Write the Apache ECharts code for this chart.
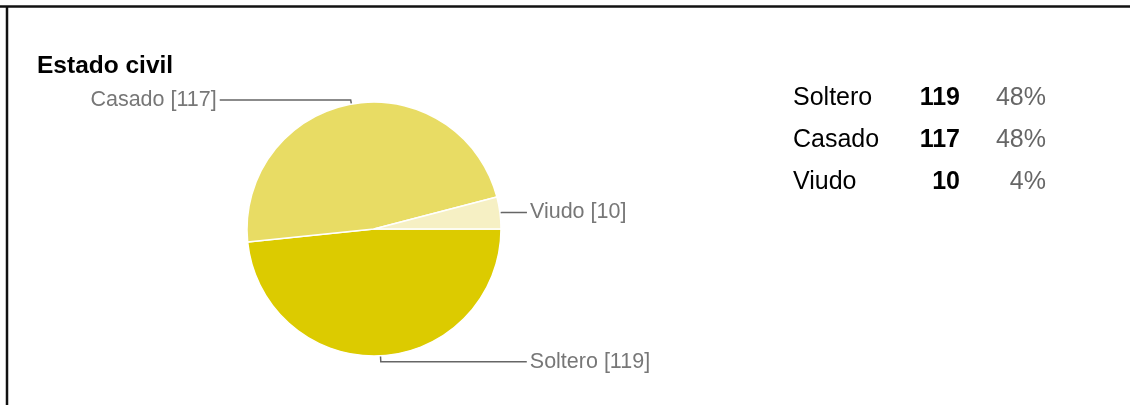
<!DOCTYPE html>
<html>
<head>
<meta charset="utf-8">
<script src="https://cdn.jsdelivr.net/npm/echarts@6/dist/echarts.min.js"></script>
<style>
  html, body { margin: 0; padding: 0; background: #fff; }
  #chart { width: 1130px; height: 405px; }
</style>
</head>
<body>
<div id="chart"></div>
<script>
// datos
var categorias = ['Soltero', 'Casado', 'Viudo'];
var valores = [119, 117, 10];
var colores = ['#dccb00', '#e8dc64', '#f6f0c4'];
var porcentajes = ['48%', '48%', '4%'];
// largo de las lineas de etiqueta por sector
var lineaLen = [6, 4, 2];
var lineaLen2 = [146, 131, 25];

var chart = echarts.init(document.getElementById('chart'));

var pieData = [];
for (var i = 0; i < categorias.length; i++) {
  pieData.push({
    name: categorias[i],
    value: valores[i],
    itemStyle: { color: colores[i] },
    labelLine: { length: lineaLen[i], length2: lineaLen2[i] }
  });
}

var fuente = '"Liberation Sans", Arial, sans-serif';

chart.setOption({
  animation: false,
  title: {
    text: 'Estado civil',
    left: 32,
    top: 49,
    textStyle: { fontFamily: fuente, fontSize: 24.5, fontWeight: 'bold', color: '#000' }
  },
  legend: {
    orient: 'vertical',
    left: 783,
    top: 81,
    icon: 'none',
    itemWidth: 0,
    itemGap: 17,
    selectedMode: false,
    data: categorias,
    formatter: function (name) {
      var idx = categorias.indexOf(name);
      return '{a|' + name + '}{b|' + valores[idx] + '}{c|' + porcentajes[idx] + '}';
    },
    textStyle: {
      fontFamily: fuente,
      rich: {
        a: { width: 120, fontSize: 25, color: '#000', lineHeight: 30, fontFamily: fuente },
        b: { width: 47, align: 'right', fontSize: 25, fontWeight: 'bold', color: '#000', lineHeight: 30, fontFamily: fuente },
        c: { width: 86, align: 'right', fontSize: 25, color: '#666', lineHeight: 30, fontFamily: fuente }
      }
    }
  },
  graphic: [
    { type: 'line', shape: { x1: 0, y1: 6.5, x2: 1130, y2: 6.5 }, style: { stroke: '#111', lineWidth: 2.5 } },
    { type: 'line', shape: { x1: 7, y1: 6, x2: 7, y2: 405 }, style: { stroke: '#111', lineWidth: 2.5 } }
  ],
  series: [{
    type: 'pie',
    center: [374, 229],
    radius: 127,
    startAngle: 0,
    clockwise: true,
    avoidLabelOverlap: false,
    emphasis: { disabled: true },
    itemStyle: { borderColor: '#fff', borderWidth: 1.5 },
    label: {
      show: true,
      position: 'outside',
      formatter: '{b} [{c}]',
      fontFamily: fuente,
      fontSize: 21.5,
      color: '#777',
      distanceToLabelLine: 3
    },
    labelLine: {
      show: true,
      smooth: false,
      lineStyle: { color: '#666', width: 1.5 }
    },
    data: pieData
  }]
});
</script>
</body>
</html>
